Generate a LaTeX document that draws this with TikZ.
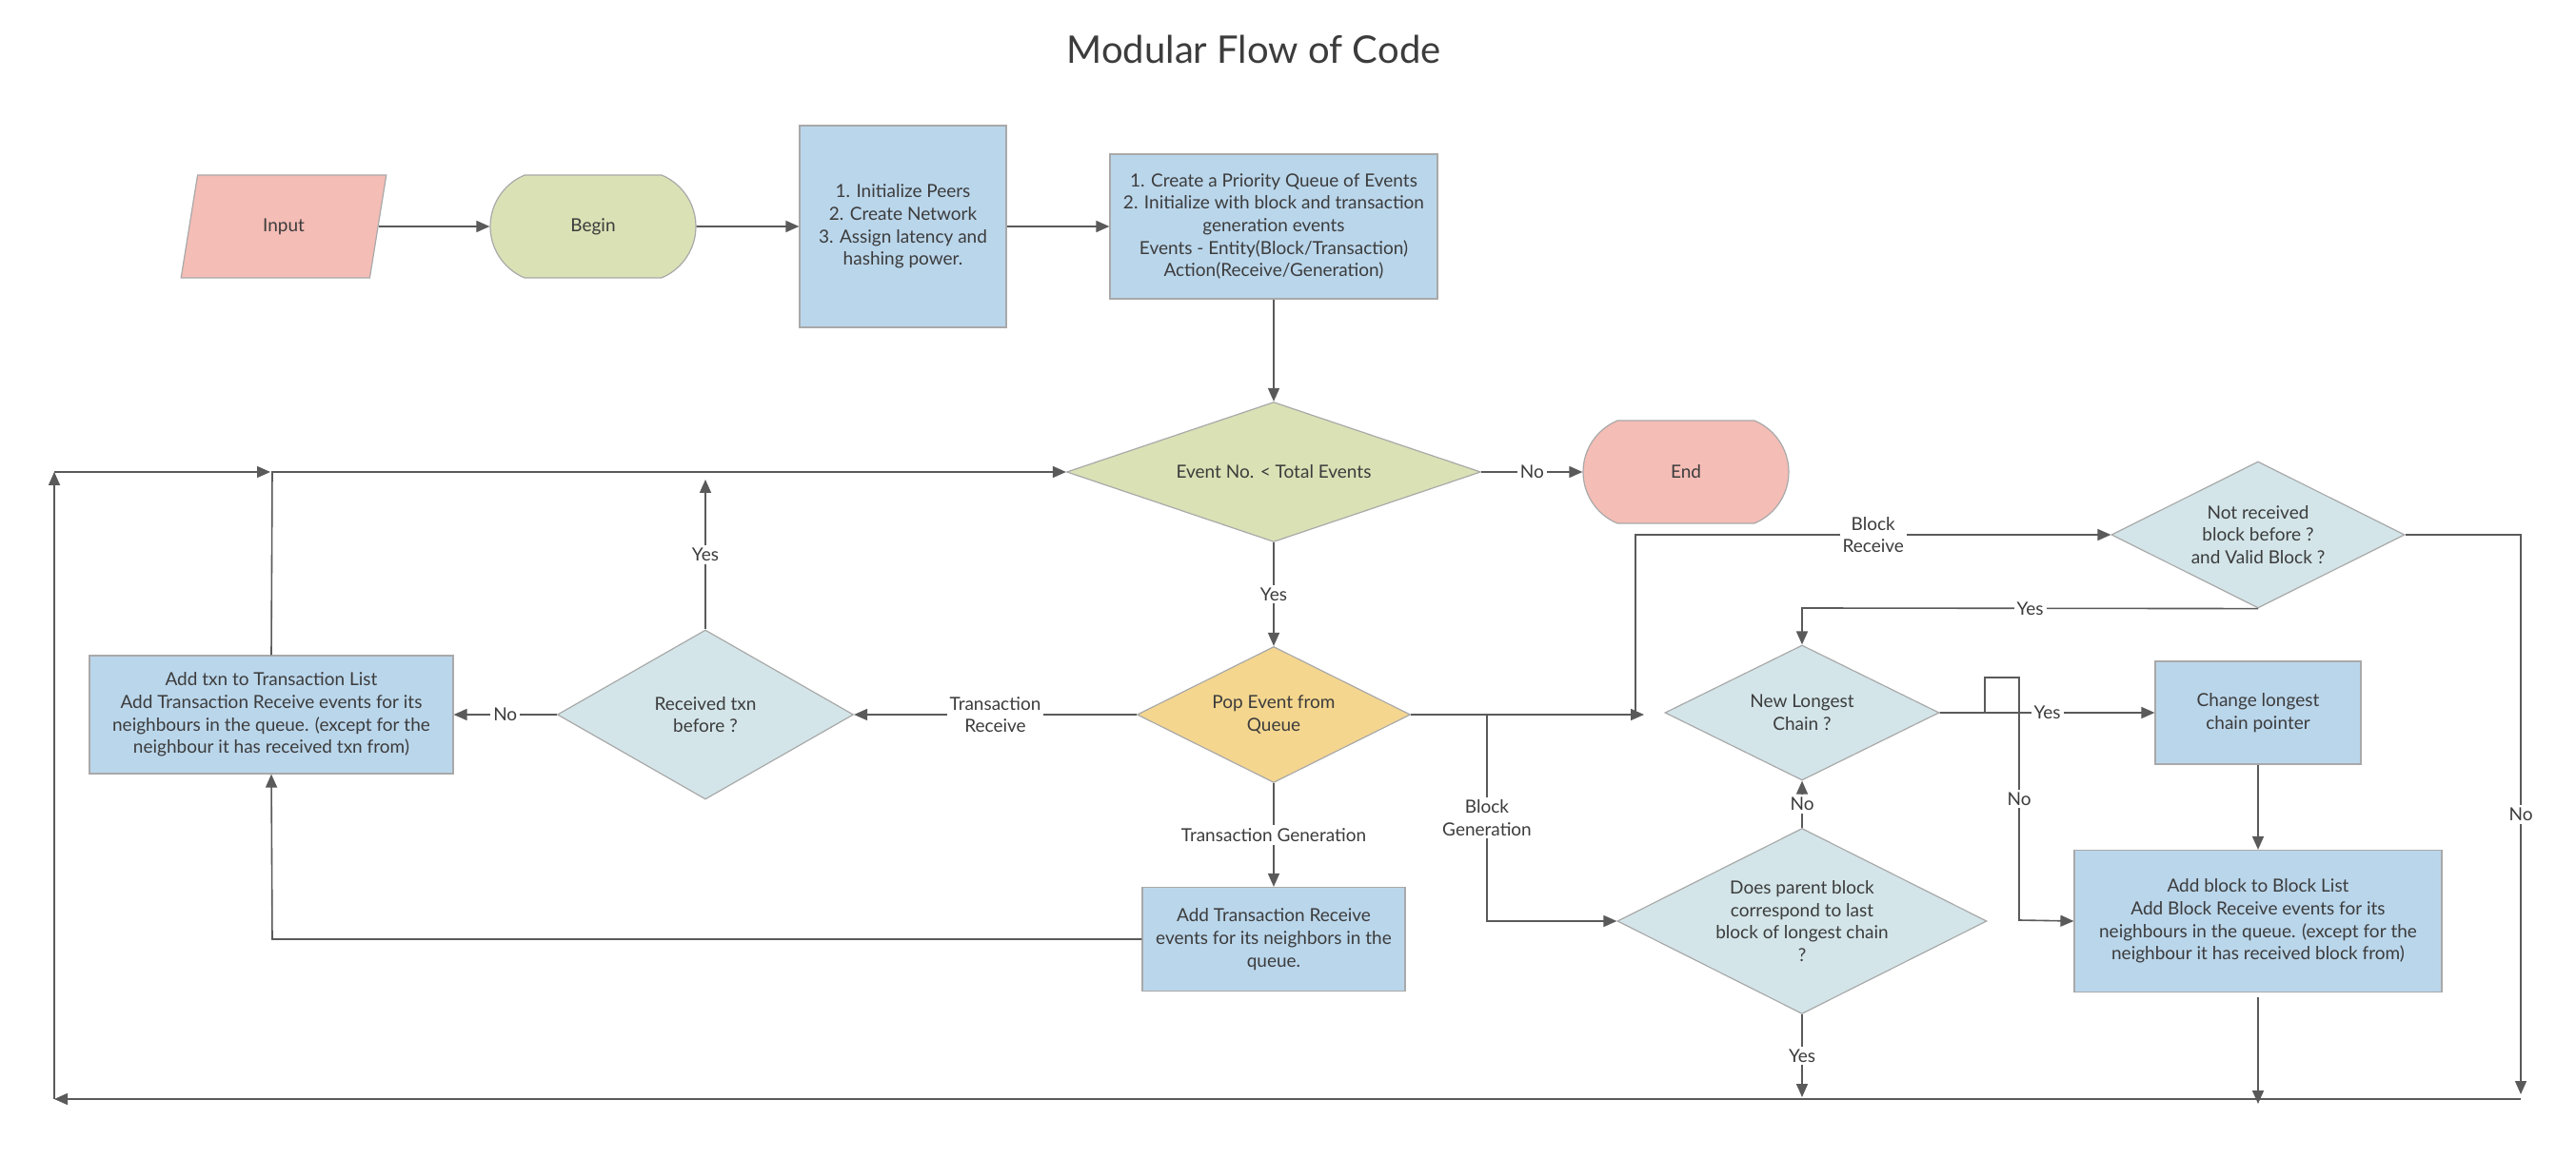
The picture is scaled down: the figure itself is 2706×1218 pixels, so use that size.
\documentclass[tikz,border=0pt]{standalone}
\usepackage{fontspec}
\setmainfont{Lato}
\usetikzlibrary{shapes.geometric,shapes.misc,arrows.meta}
\definecolor{pinkF}{HTML}{F4BDB6}
\definecolor{greenF}{HTML}{DAE1B5}
\definecolor{blueF}{HTML}{BAD6EB}
\definecolor{tealF}{HTML}{D3E5E9}
\definecolor{orangeF}{HTML}{F4D68F}
\definecolor{bordc}{HTML}{A9A9A9}
\definecolor{linec}{HTML}{5A5A5A}
\definecolor{txtc}{HTML}{3C3C3C}
\begin{document}
\begin{tikzpicture}[x=0.5pt,y=-0.5pt,
  font=\fontsize{9.5}{11.85}\selectfont, text=txtc,
  box/.style={rectangle, draw=bordc, line width=0.6pt, fill=blueF, align=center, inner sep=0pt},
  dia/.style={diamond, draw=bordc, line width=0.6pt, align=center, inner sep=0pt, fill=tealF},
  term/.style={rounded rectangle, rounded rectangle arc length=135, draw=bordc, line width=0.6pt, align=center, inner sep=0pt, minimum width=108pt, minimum height=54pt},
  conn/.style={draw=linec, line width=0.8pt, -{Triangle[length=7pt,width=6pt]}},
  plain/.style={draw=linec, line width=0.8pt},
  lbl/.style={fill=white, inner sep=1.5pt, align=center, text=txtc}]
\useasboundingbox (0,0) rectangle (2706,1218);
\fill[white] (0,0) rectangle (2706,1218);

% title
\node[font=\fontsize{20}{24}\selectfont] (title) at (1317,52) {Modular Flow of Code};

% top row
\node[trapezium, trapezium left angle=76, trapezium right angle=104, trapezium stretches=true,
      draw=bordc, line width=0.6pt, fill=pinkF, inner sep=0pt, minimum width=108pt, minimum height=54pt] (in) at (298,238) {Input};
\node[term, fill=greenF] (begin) at (623,238) {Begin};
\node[box, minimum width=108.5pt, minimum height=106pt] (b1) at (948.5,238)
  {1. Initialize Peers\\2. Create Network\\3. Assign latency and\\hashing power.};
\node[box, minimum width=172pt, minimum height=76pt] (b2) at (1338,238)
  {1. Create a Priority Queue of Events\\2. Initialize with block and transaction\\generation events\\Events - Entity(Block/Transaction)\\Action(Receive/Generation)};

% main decisions
\node[dia, fill=greenF, minimum width=217.5pt, minimum height=73.5pt, shape aspect=2.96] (d1) at (1338,496) {Event No. < Total Events};
\node[term, fill=pinkF] (end) at (1771,496) {End};
\node[dia, fill=orangeF, minimum width=143.5pt, minimum height=71.5pt, shape aspect=2] (pop) at (1338,751) {Pop Event from\\Queue};
\node[dia, minimum width=155.5pt, minimum height=89pt, shape aspect=1.75] (rcv) at (741,751) {Received txn\\before ?};
\node[box, minimum width=191pt, minimum height=62pt] (txn) at (285,751)
  {Add txn to Transaction List\\Add Transaction Receive events for its\\neighbours in the queue. (except for the\\neighbour it has received txn from)};
\node[box, minimum width=138pt, minimum height=54.5pt] (atr) at (1338,987)
  {Add Transaction Receive\\events for its neighbors in the\\queue.};

% block side
\node[dia, minimum width=154pt, minimum height=77pt, shape aspect=2] (nr) at (2372,562) {Not received\\block before ?\\and Valid Block ?};
\node[dia, minimum width=144pt, minimum height=71pt, shape aspect=2.03] (nl) at (1893,749) {New Longest\\Chain ?};
\node[dia, minimum width=194pt, minimum height=97.5pt, shape aspect=1.99] (dp) at (1893,968) {Does parent block\\correspond to last\\block of longest chain\\?};
\node[box, minimum width=108pt, minimum height=54pt] (cl) at (2372,749) {Change longest\\chain pointer};
\node[box, minimum width=193pt, minimum height=74.5pt] (ab) at (2372,968)
  {Add block to Block List\\Add Block Receive events for its\\neighbours in the queue. (except for the\\neighbour it has received block from)};

% loop coordinates
\coordinate (br) at (2648,1155);
\coordinate (bl) at (57,1155);
\coordinate (tl) at (57,496);
\coordinate (jn) at (284,496);

% top row connectors
\draw[conn] (in) -- (begin);
\draw[conn] (begin) -- (b1);
\draw[conn] (b1) -- (b2);
\draw[conn] (b2) -- (d1);

% d1
\draw[conn] (d1.east) -- node[lbl]{No} (end.west);
\draw[conn] (d1.south) -- node[lbl]{Yes} (pop.north);

% transaction side
\draw[conn] (pop.west) -- node[lbl]{Transaction\\Receive} (rcv.east);
\draw[conn] (rcv.west) -- node[lbl]{No} (txn.east);
\draw[conn] (rcv.north) -- node[lbl]{Yes} (741,504);
\draw[conn] (txn.north) -- (286,496) -- (d1.west);
\draw[conn] (pop.south) -- node[lbl]{Transaction Generation} (atr.north);
\draw[conn] (atr.west) -- (286,987) -- (txn.south);

% outer loop
\draw[conn] (br) -- (bl);
\draw[conn] (bl) -- (tl);
\draw[conn] (tl) -- (jn);

% block side connectors
\draw[conn] (pop.east) -- (1727,751);
\draw[conn] (1718,751) -- (1718,562) -- node[lbl]{Block\\Receive} (nr.west);
\draw[conn] (1562,751) -- node[lbl]{Block\\Generation} (1562,968) -- (dp.west);
\draw[conn] (nr.south) -- node[lbl]{Yes} (1893,639) -- (nl.north);
\draw[conn] (nl.east) -- node[lbl]{Yes} (cl.west);
\draw[conn] (nl.east) -- (2085,749) -- (2085,712) -- (2121,712) -- node[lbl]{No} (2121,967) -- (ab.west);
\draw[conn] (dp.north) -- node[lbl]{No} (nl.south);
\draw[conn] (dp.south) -- node[lbl]{Yes} (1893,1153);
\draw[conn] (cl.south) -- (ab.north);
\draw[conn, shorten <=2.5pt] (ab.south) -- (2372,1160);
\draw[conn] (nr.east) -- (2648,562) -- node[lbl]{No} (2648,1150);
\end{tikzpicture}
\end{document}
